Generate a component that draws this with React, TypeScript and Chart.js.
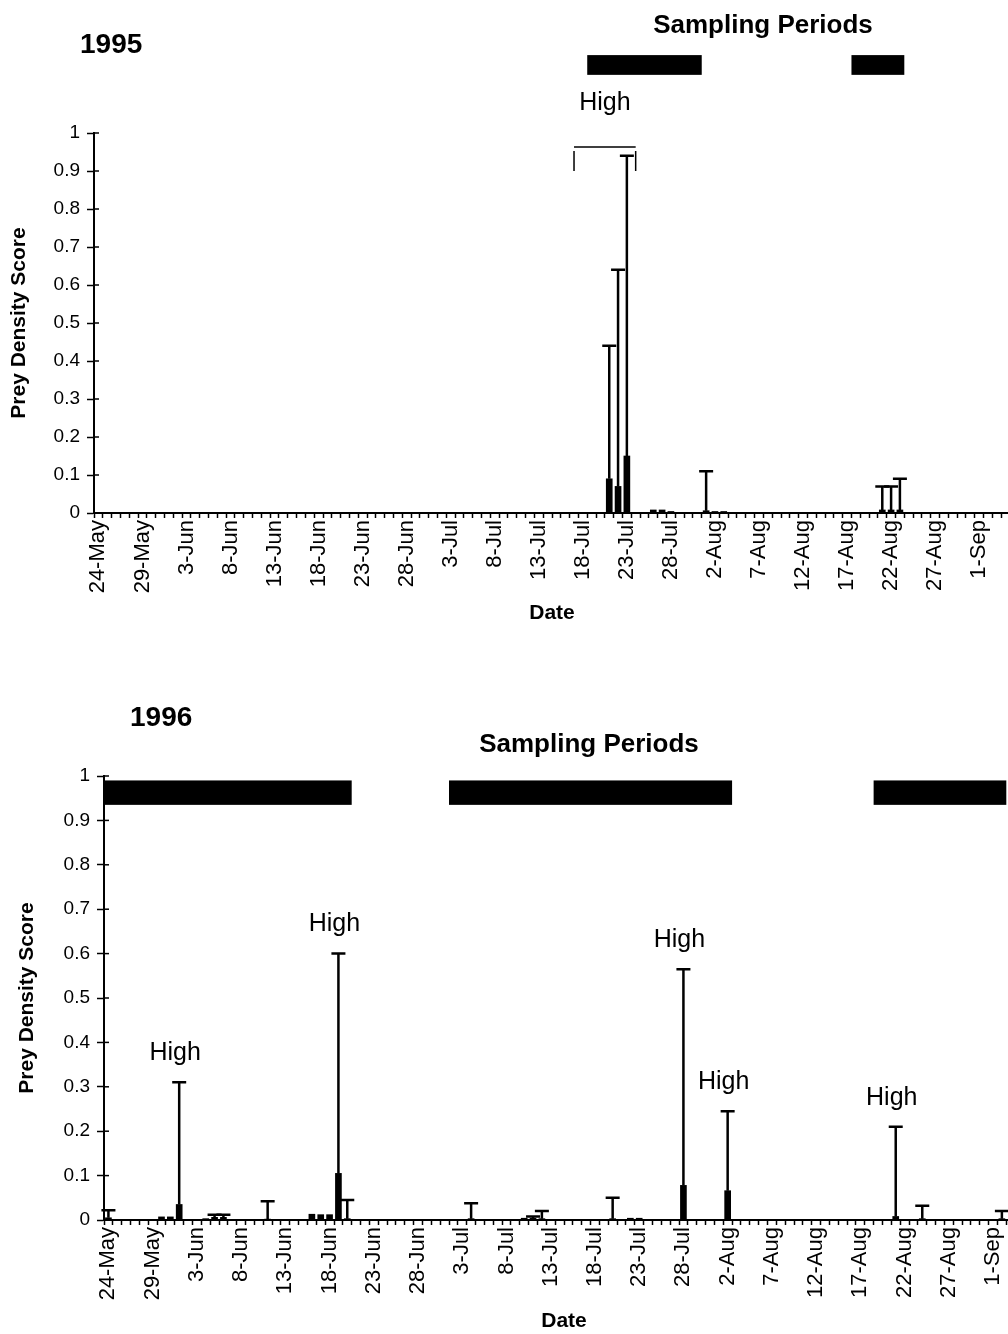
import React, { useEffect, useRef } from 'react';
import { Chart, registerables } from 'chart.js';

Chart.register(...registerables);

const FONT = '"Liberation Sans", Arial, Helvetica, sans-serif';

// ---- categories (one per day, 24-May .. 4-Sep) ----
const MONTH_SPANS: [string, number, number][] = [
  ['May', 24, 31],
  ['Jun', 1, 30],
  ['Jul', 1, 31],
  ['Aug', 1, 31],
  ['Sep', 1, 4],
];
const days: string[] = [];
for (const [m, a, b] of MONTH_SPANS) for (let d = a; d <= b; d++) days.push(`${d}-${m}`);

const xTickLabels = [
  '24-May', '29-May', '3-Jun', '8-Jun', '13-Jun', '18-Jun', '23-Jun', '28-Jun',
  '3-Jul', '8-Jul', '13-Jul', '18-Jul', '23-Jul', '28-Jul', '2-Aug', '7-Aug',
  '12-Aug', '17-Aug', '22-Aug', '27-Aug', '1-Sep',
];
const yTickLabels = ['0', '0.1', '0.2', '0.3', '0.4', '0.5', '0.6', '0.7', '0.8', '0.9', '1'];

// ---- 1995 ----
const dates1995 = ['21-Jul', '22-Jul', '23-Jul', '26-Jul', '27-Jul', '28-Jul', '1-Aug', '2-Aug', '3-Aug', '21-Aug', '22-Aug', '23-Aug'];
const mean1995 = [0.09, 0.07, 0.15, 0.008, 0.008, 0.004, 0.006, 0.004, 0.004, 0.008, 0.008, 0.008];
const upper1995 = [0.44, 0.64, 0.94, 0, 0, 0, 0.11, 0, 0, 0.07, 0.07, 0.09];
const samplingStart1995 = ['19-Jul', '18-Aug'];
const samplingEnd1995 = ['31-Jul', '23-Aug'];
const highBracket1995 = ['17-Jul', '24-Jul'];

// ---- 1996 ----
const dates1996 = ['24-May', '30-May', '31-May', '1-Jun', '4-Jun', '5-Jun', '6-Jun', '11-Jun', '16-Jun', '17-Jun', '18-Jun', '19-Jun', '20-Jun', '4-Jul', '10-Jul', '11-Jul', '12-Jul', '20-Jul', '22-Jul', '23-Jul', '28-Jul', '2-Aug', '21-Aug', '24-Aug', '2-Sep'];
const mean1996 = [0.005, 0.007, 0.007, 0.035, 0.003, 0.006, 0.006, 0.002, 0.013, 0.012, 0.012, 0.105, 0.003, 0.003, 0.004, 0.004, 0.003, 0.003, 0.004, 0.004, 0.078, 0.066, 0.008, 0.003, 0.003];
const upper1996 = [0.022, 0, 0, 0.31, 0, 0.012, 0.012, 0.042, 0, 0, 0, 0.6, 0.045, 0.038, 0, 0.008, 0.02, 0.05, 0, 0, 0.565, 0.245, 0.21, 0.032, 0.02];
const samplingStart1996 = ['24-May', '2-Jul', '19-Aug'];
const samplingEnd1996 = ['20-Jun', '2-Aug', '2-Sep'];
const highDates1996 = ['1-Jun', '19-Jun', '28-Jul', '2-Aug', '21-Aug'];

function fill(dates: string[], vals: number[]) {
  return days.map((d) => {
    const i = dates.indexOf(d);
    return i >= 0 ? vals[i] : 0;
  });
}

function errorBarsPlugin(upper: number[]) {
  return {
    id: 'errorBars',
    afterDatasetsDraw(chart: any) {
      const { ctx, scales } = chart;
      const x = scales.x, y = scales.y;
      const mean = chart.data.datasets[0].data;
      ctx.save();
      ctx.strokeStyle = '#000';
      ctx.lineWidth = 2.5;
      upper.forEach((u, i) => {
        if (!u) return;
        const px = x.getPixelForValue(i);
        const y0 = y.getPixelForValue(mean[i] || 0);
        const y1 = y.getPixelForValue(u);
        ctx.beginPath();
        ctx.moveTo(px, y0);
        ctx.lineTo(px, y1);
        ctx.moveTo(px - 7, y1);
        ctx.lineTo(px + 7, y1);
        ctx.stroke();
      });
      ctx.restore();
    },
  };
}

function annotationPlugin(p: any) {
  return {
    id: 'annotations',
    afterDraw(chart: any) {
      const { ctx, scales, chartArea } = chart;
      const x = scales.x, y = scales.y;
      const bw = x.width / days.length;
      ctx.save();
      ctx.fillStyle = '#000';
      ctx.strokeStyle = '#000';

      // right-hand stubs of the y ticks (ticks cross the axis)
      ctx.lineWidth = 1.5;
      y.ticks.forEach((t: any) => {
        const py = y.getPixelForValue(t.value);
        ctx.beginPath();
        ctx.moveTo(chartArea.left, py);
        ctx.lineTo(chartArea.left + 5, py);
        ctx.stroke();
      });

      // year
      ctx.font = `bold 28px ${FONT}`;
      ctx.textAlign = 'left';
      ctx.textBaseline = 'middle';
      ctx.fillText(p.year, p.yearX, p.yearY);

      // sampling periods
      ctx.font = `bold 26px ${FONT}`;
      ctx.textAlign = 'center';
      ctx.fillText('Sampling Periods', p.samplingX, p.samplingY);
      p.starts.forEach((s: string, k: number) => {
        const x0 = x.getPixelForValue(days.indexOf(s)) - bw / 2;
        const x1 = x.getPixelForValue(days.indexOf(p.ends[k])) + bw / 2;
        const yTop = y.getPixelForValue(p.band[1]);
        const yBot = y.getPixelForValue(p.band[0]);
        ctx.fillRect(x0, yTop, x1 - x0, yBot - yTop);
      });

      // "High" labels
      ctx.font = `25px ${FONT}`;
      ctx.textAlign = 'center';
      (p.highs || []).forEach((d: string) => {
        const i = days.indexOf(d);
        const px = x.getPixelForValue(i);
        const py = y.getPixelForValue(p.upper[i]);
        ctx.fillText('High', px - 4, py - 29);
      });

      if (p.bracket) {
        const bx0 = x.getPixelForValue(days.indexOf(p.bracket[0]));
        const bx1 = x.getPixelForValue(days.indexOf(p.bracket[1]));
        const by = y.getPixelForValue(0.963);
        ctx.lineWidth = 1.5;
        ctx.beginPath();
        ctx.moveTo(bx0, by + 24);
        ctx.lineTo(bx0, by + 4);
        ctx.moveTo(bx0, by);
        ctx.lineTo(bx1, by);
        ctx.moveTo(bx1, by + 4);
        ctx.lineTo(bx1, by + 24);
        ctx.stroke();
        ctx.fillText('High', (bx0 + bx1) / 2, by - 44);
      }
      ctx.restore();
    },
  };
}

function PreyChart(p: any) {
  const ref = useRef<HTMLCanvasElement | null>(null);
  useEffect(() => {
    if (!ref.current) return;
    const mean = fill(p.dates, p.means);
    const upper = fill(p.dates, p.uppers);
    const chart = new Chart(ref.current, {
      type: 'bar',
      data: {
        labels: days,
        datasets: [{ data: mean, backgroundColor: '#000', borderWidth: 0, barThickness: 6 }],
      },
      options: {
        animation: false,
        responsive: false,
        maintainAspectRatio: false,
        events: [],
        layout: { padding: { top: p.padTop, left: 0, right: 0, bottom: 0 } },
        plugins: { legend: { display: false }, tooltip: { enabled: false } },
        scales: {
          x: {
            type: 'category',
            offset: true,
            grid: {
              display: true, drawOnChartArea: false, drawTicks: true, tickLength: 5,
              tickWidth: 1.5, tickColor: '#000', offset: true,
            },
            border: { display: true, color: '#000', width: 2 },
            ticks: {
              autoSkip: false, minRotation: 90, maxRotation: 90, padding: 2, color: '#000',
              font: { family: FONT, size: 22 },
              callback: (_v: any, i: number) => (xTickLabels.includes(days[i]) ? days[i] : ''),
            },
            title: {
              display: true, text: 'Date', color: '#000',
              font: { family: FONT, size: 21, weight: 'bold' }, padding: { top: 0, bottom: 0 },
            },
            afterFit: (s: any) => {
              s.height = p.xAxisHeight;
              s.paddingLeft = 0;
              s.paddingRight = 0;
            },
          },
          y: {
            min: 0,
            max: 1,
            ticks: {
              stepSize: 0.1, color: '#000', padding: 7,
              font: { family: FONT, size: 19 },
              callback: (_v: any, i: number) => yTickLabels[i],
            },
            grid: { drawOnChartArea: false, drawTicks: true, tickLength: 7, tickWidth: 1.5, tickColor: '#000' },
            border: { color: '#000', width: 2 },
            title: {
              display: true, text: 'Prey Density Score', color: '#000',
              font: { family: FONT, size: 21, weight: 'bold' }, padding: { top: p.yTitlePad, bottom: 0 },
            },
            afterFit: (s: any) => {
              s.width = p.yAxisWidth;
            },
          },
        },
      } as any,
      plugins: [
        errorBarsPlugin(upper),
        annotationPlugin({ ...p.annot, upper }),
      ],
    });
    return () => chart.destroy();
  }, []);
  return (
    <canvas
      ref={ref}
      width={p.width}
      height={p.height}
      style={{ position: 'absolute', left: 0, top: p.top, width: p.width, height: p.height }}
    />
  );
}

export default function App() {
  return (
    <div
      style={{
        position: 'absolute', left: 0, top: 0, width: 1008, height: 1334,
        overflow: 'hidden', background: '#fff',
      }}
    >
      <PreyChart
        top={0}
        width={1010}
        height={626}
        padTop={133}
        xAxisHeight={113}
        yAxisWidth={94}
        yTitlePad={7}
        dates={dates1995}
        means={mean1995}
        uppers={upper1995}
        annot={{
          year: '1995', yearX: 80, yearY: 45,
          samplingX: 763, samplingY: 26,
          starts: samplingStart1995, ends: samplingEnd1995,
          band: [1.153, 1.205],
          highs: [],
          bracket: highBracket1995,
        }}
      />
      <PreyChart
        top={640}
        width={1024}
        height={694}
        padTop={136}
        xAxisHeight={114}
        yAxisWidth={104}
        yTitlePad={15}
        dates={dates1996}
        means={mean1996}
        uppers={upper1996}
        annot={{
          year: '1996', yearX: 130, yearY: 78,
          samplingX: 589, samplingY: 105,
          starts: samplingStart1996, ends: samplingEnd1996,
          band: [0.935, 0.99],
          highs: highDates1996,
        }}
      />
    </div>
  );
}
